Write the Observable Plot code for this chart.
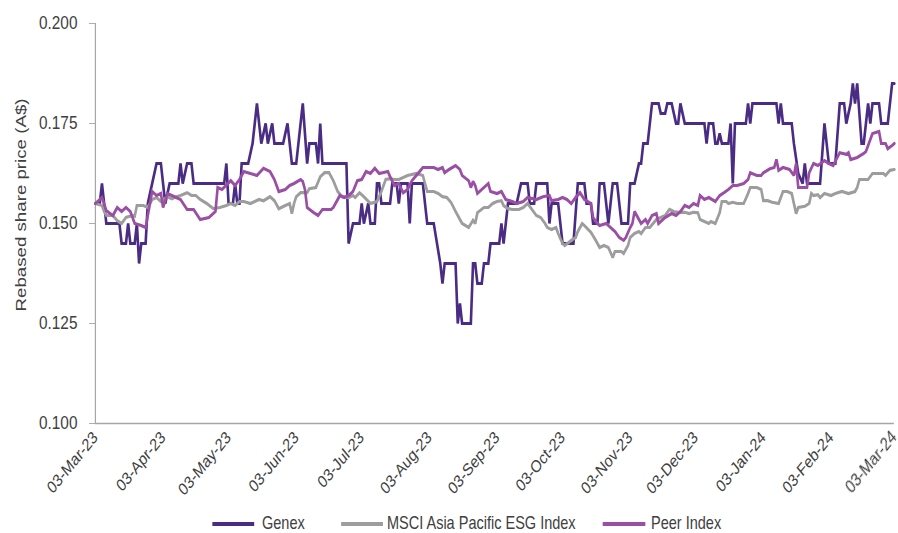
<!DOCTYPE html>
<html><head><meta charset="utf-8">
<script src="https://cdn.jsdelivr.net/npm/d3@7"></script>
<script src="https://cdn.jsdelivr.net/npm/@observablehq/plot@0.6"></script>
<style>
body{margin:0;background:#fff;width:898px;height:533px;overflow:hidden;position:relative}
#chart{position:absolute;left:0;top:0;width:1095px;transform:scaleX(0.82);transform-origin:0 0}
#chart svg{display:block;max-width:none !important;width:1095px;height:500px;overflow:visible}
#legend{position:absolute;left:0;top:514px;width:1095px;height:18px;transform:scaleX(0.82);transform-origin:0 0;font-family:'Liberation Sans',Arial,sans-serif;font-size:17.7px;color:#404040}
.sw{position:absolute;top:8px;height:4px}
.lt{position:absolute;top:0;line-height:18px;height:18px;white-space:nowrap}
</style></head><body>
<div id="chart"></div>
<div id="legend"></div>
<script>
const startDate = "2023-03-03";
const endDate = "2024-03-03";
const tickDates = ["2023-03-03","2023-04-03","2023-05-03","2023-06-03","2023-07-03","2023-08-03","2023-09-03","2023-10-03","2023-11-03","2023-12-03","2024-01-03","2024-02-03","2024-03-03"];
const yTicks = [0.100, 0.125, 0.150, 0.175, 0.200];
const yTitle = "Rebased share price (A$)";
const seriesNames = ["Genex", "MSCI Asia Pacific ESG Index", "Peer Index"];
const seriesColors = ["#4b2c84", "#9d9d9d", "#9a4ea4"];

// [days since 03-Mar-23, rebased price]
const genex = [[0,.155],[2,.155],[3,.160],[4,.155],[5,.150],[11,.150],[12,.145],[14,.145],[15,.150],[16,.145],[18,.145],[19,.150],[20,.140],[21,.145],[23,.145],[24,.155],[26,.160],[28,.165],[30,.165],[32,.155],[34,.160],[38,.160],[39,.165],[40,.160],[42,.165],[44,.165],[45,.160],[59,.160],[60,.165],[61,.155],[63,.155],[64,.160],[65,.155],[66,.155],[67,.165],[70,.165],[72,.170],[74,.180],[76,.170],[78,.175],[79,.170],[81,.175],[82,.170],[86,.170],[88,.175],[90,.165],[92,.165],[95,.180],[97,.165],[98,.170],[101,.170],[102,.165],[103,.175],[104,.165],[115,.165],[116,.145],[118,.150],[121,.150],[122,.155],[123,.150],[125,.155],[126,.150],[128,.150],[129,.160],[130,.160],[131,.155],[135,.155],[136,.160],[138,.160],[139,.155],[140,.160],[143,.160],[144,.150],[145,.160],[150,.160],[152,.150],[155,.150],[158,.140],[159,.135],[160,.140],[165,.140],[166,.125],[167,.130],[168,.125],[172,.125],[173,.140],[174,.140],[175,.135],[177,.135],[178,.140],[180,.140],[181,.145],[185,.145],[186,.150],[187,.145],[188,.150],[189,.155],[193,.155],[195,.160],[198,.160],[199,.155],[201,.155],[202,.160],[207,.160],[208,.150],[209,.155],[212,.155],[214,.145],[219,.145],[221,.160],[224,.160],[225,.155],[227,.155],[228,.150],[230,.150],[231,.160],[233,.160],[235,.150],[236,.155],[237,.160],[239,.160],[241,.150],[244,.150],[245,.160],[247,.160],[249,.165],[250,.165],[251,.170],[253,.170],[255,.180],[258,.180],[259,.1775],[261,.1775],[262,.180],[264,.180],[266,.175],[267,.175],[268,.180],[270,.175],[279,.175],[280,.170],[281,.175],[283,.175],[284,.170],[285,.170],[286,.1725],[287,.170],[290,.170],[291,.175],[292,.160],[293,.175],[298,.175],[299,.180],[300,.175],[301,.180],[312,.180],[313,.175],[314,.180],[315,.175],[319,.175],[320,.170],[322,.1625],[324,.160],[325,.165],[326,.160],[332,.160],[334,.175],[336,.165],[339,.165],[341,.180],[343,.180],[344,.175],[346,.180],[347,.185],[348,.180],[349,.185],[351,.170],[352,.170],[354,.180],[355,.175],[356,.180],[359,.180],[360,.175],[363,.175],[365,.185],[366,.185]];

const msci = [[0,.155],[3,.1545],[4,.153],[5,.152],[8,.152],[10,.1507],[12,.150],[14,.1515],[17,.152],[18,.1518],[19,.1545],[22,.1545],[24,.154],[26,.156],[28,.1565],[30,.1555],[33,.1567],[35,.1562],[37,.1567],[39,.157],[42,.1577],[44,.157],[46,.157],[48,.156],[51,.155],[54,.1537],[57,.154],[60,.1545],[62,.155],[64,.1545],[66,.1555],[68,.1555],[71,.155],[73,.1555],[75,.156],[77,.1557],[80,.1567],[82,.1557],[84,.1537],[87,.1545],[89,.155],[90,.1525],[91,.155],[92,.1567],[94,.1577],[97,.1577],[98,.1587],[101,.159],[103,.1617],[105,.1627],[107,.1627],[109,.1607],[111,.158],[113,.1567],[116,.1565],[118,.157],[119,.1565],[121,.1577],[123,.1567],[126,.155],[129,.1555],[131,.158],[133,.161],[135,.1612],[137,.161],[139,.161],[143,.162],[147,.1625],[150,.162],[151,.160],[152,.158],[155,.158],[157,.1575],[159,.1567],[161,.1565],[163,.1552],[165,.153],[167,.151],[168,.150],[171,.149],[173,.1508],[174,.150],[175,.1527],[178,.154],[180,.154],[182,.155],[184,.1555],[186,.1557],[187,.1545],[189,.1537],[191,.1535],[194,.1535],[196,.154],[198,.155],[200,.1535],[202,.152],[204,.1515],[206,.150],[207,.149],[209,.1485],[211,.149],[212,.1475],[214,.145],[215,.1445],[218,.1458],[220,.1465],[221,.148],[223,.150],[224,.1495],[227,.1478],[229,.146],[231,.144],[233,.1445],[235,.144],[237,.1415],[238,.143],[241,.143],[242,.1425],[244,.1445],[245,.1465],[247,.1475],[249,.148],[250,.1475],[252,.149],[254,.149],[257,.151],[259,.1515],[261,.152],[263,.1535],[265,.153],[267,.1528],[270,.1528],[272,.1525],[274,.1528],[276,.1527],[277,.151],[279,.1505],[281,.150],[282,.1505],[284,.150],[286,.1527],[287,.1555],[289,.1555],[290,.155],[292,.1553],[294,.155],[297,.155],[299,.1575],[300,.159],[303,.159],[305,.1585],[306,.1557],[308,.1557],[310,.1553],[313,.155],[314,.1565],[315,.158],[317,.158],[319,.1575],[320,.155],[321,.1525],[322,.154],[325,.1543],[327,.155],[328,.1575],[329,.157],[331,.1572],[332,.1565],[334,.1575],[337,.157],[339,.1575],[342,.158],[345,.1575],[348,.158],[349,.159],[350,.161],[352,.161],[354,.161],[356,.1625],[359,.1625],[361,.1625],[362,.162],[364,.1633],[366,.1635]];

const peer = [[0,.155],[3,.1565],[5,.1532],[8,.152],[10,.154],[12,.153],[14,.154],[16,.153],[18,.150],[21,.1495],[23,.149],[26,.158],[28,.157],[30,.1575],[31,.154],[33,.1575],[35,.157],[37,.1565],[39,.156],[42,.1535],[45,.1535],[48,.151],[52,.1515],[55,.153],[56,.159],[58,.1585],[62,.1607],[64,.1595],[66,.161],[68,.163],[71,.1625],[74,.162],[77,.1638],[80,.163],[82,.161],[84,.158],[87,.1585],[89,.1595],[91,.160],[94,.161],[95,.1605],[96,.1585],[97,.154],[100,.1527],[102,.152],[104,.1535],[108,.1535],[109,.154],[111,.156],[112,.157],[114,.1565],[116,.157],[118,.158],[120,.1607],[122,.161],[124,.163],[126,.1625],[128,.1638],[130,.1625],[134,.163],[135,.1617],[137,.1595],[139,.160],[141,.1577],[143,.1585],[145,.1607],[147,.162],[150,.164],[153,.164],[155,.164],[157,.1635],[159,.164],[160,.1627],[162,.1635],[165,.1645],[167,.1635],[168,.162],[171,.1607],[172,.159],[173,.1605],[174,.1595],[175,.1575],[178,.159],[180,.160],[181,.158],[184,.1575],[186,.158],[188,.156],[191,.1555],[193,.155],[196,.1555],[198,.1565],[202,.156],[205,.1567],[208,.157],[209,.1557],[212,.156],[214,.1565],[216,.156],[218,.155],[220,.1565],[222,.1577],[224,.156],[227,.155],[228,.1515],[230,.150],[231,.1495],[234,.150],[236,.149],[238,.148],[240,.1465],[242,.1458],[243,.1465],[245,.149],[246,.150],[247,.153],[248,.152],[250,.150],[252,.151],[253,.150],[255,.152],[257,.1525],[258,.150],[261,.1515],[264,.1525],[266,.152],[268,.153],[270,.1545],[272,.154],[274,.155],[276,.1545],[277,.157],[279,.156],[281,.1565],[284,.1555],[286,.157],[288,.1577],[290,.1585],[292,.1595],[294,.1595],[297,.160],[299,.161],[300,.1627],[303,.162],[305,.162],[306,.1627],[309,.1637],[311,.164],[312,.166],[313,.1633],[315,.164],[318,.1635],[320,.162],[321,.165],[322,.159],[326,.159],[327,.1627],[329,.165],[331,.1645],[334,.1657],[336,.165],[338,.1645],[341,.1677],[344,.1673],[345,.1677],[346,.166],[349,.1665],[352,.1675],[353,.168],[354,.1695],[356,.1725],[359,.173],[360,.170],[362,.170],[363,.1687],[365,.1695],[366,.170]];

const parse = d3.utcParse("%Y-%m-%d");
const t0 = parse(startDate), t1 = parse(endDate);
const toRows = (pairs) => pairs.map(([d, v]) => ({date: d3.utcDay.offset(t0, d), value: v}));
const seriesData = [genex, msci, peer].map(toRows);

// The chart is drawn in a wider frame and squeezed horizontally (as in the reference).
const sx = 0.82;
const W = Math.round(898 / sx);
const axisColor = "#a6a6a6";
const textColor = "#404040";
const svg = Plot.plot({
  width: W, height: 500,
  marginLeft: 95 / sx, marginRight: 4 / sx, marginTop: 23, marginBottom: 77,
  style: {fontFamily: "'Liberation Sans',Arial,sans-serif", fontSize: "18.7px", color: textColor, background: "#fff", overflow: "visible"},
  x: {type: "utc", domain: [t0, t1]},
  y: {domain: [yTicks[0], yTicks[yTicks.length - 1]]},
  marks: [
    Plot.axisY({ticks: yTicks, tickFormat: d3.format(".3f"), tickSize: 6 / sx, tickPadding: 12 / sx, stroke: axisColor, label: null}),
    Plot.axisX({ticks: tickDates.map(parse), tickFormat: d3.utcFormat("%d-%b-%y"), tickSize: 0, tickPadding: 11, tickRotate: -45, fontSize: 17.2, label: null}),
    Plot.ruleX([t0], {stroke: axisColor, strokeWidth: 1.5}),
    Plot.ruleY([yTicks[0]], {stroke: axisColor, strokeWidth: 1.3}),
    ...seriesData.map((rows, i) => Plot.line(rows, {x: "date", y: "value", stroke: seriesColors[i], strokeWidth: 3.2, strokeLinejoin: "miter", strokeMiterlimit: 2}))
  ]
});
d3.select(svg).append("text")
  .attr("transform", `translate(${21 / sx},205) rotate(-90)`)
  .attr("text-anchor", "middle").attr("dy", "0.35em")
  .attr("fill", textColor)
  .style("font-family", "'Liberation Sans',Arial,sans-serif").style("font-size", "18.7px")
  .text(yTitle);
document.getElementById("chart").appendChild(svg);

// legend (positions in the unsqueezed frame)
const swX = [212, 341, 603], txX = [262, 387, 651];
const lg = document.getElementById("legend");
seriesNames.forEach((name, i) => {
  const s = document.createElement("span");
  s.className = "sw"; s.style.left = (swX[i] / sx) + "px"; s.style.width = (42 / sx) + "px"; s.style.background = seriesColors[i];
  lg.appendChild(s);
  const t = document.createElement("span");
  t.className = "lt"; t.style.left = (txX[i] / sx) + "px"; t.textContent = name;
  lg.appendChild(t);
});
</script>
</body></html>
